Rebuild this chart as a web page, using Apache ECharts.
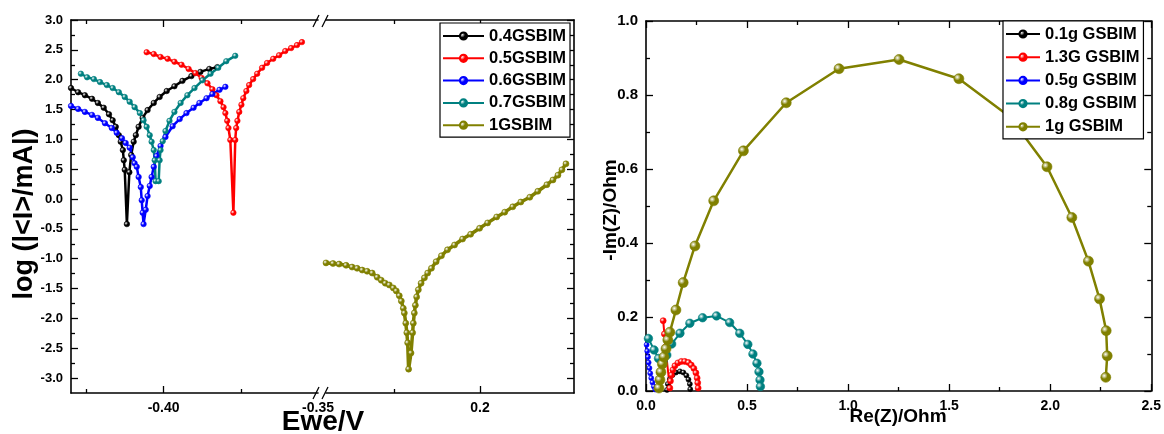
<!DOCTYPE html>
<html>
<head>
<meta charset="utf-8">
<script src="https://cdn.jsdelivr.net/npm/echarts@6/dist/echarts.min.js"></script>
<style>
  html, body { margin: 0; padding: 0; background: #fff; }
  #chart { width: 1164px; height: 434px; }
</style>
</head>
<body>
<div id="chart"></div>
<script>
// ---- Tafel polarisation curves: [E (V), log(|I|/mA)] ----
const tafelNames = ['0.4GSBIM', '0.5GSBIM', '0.6GSBIM', '0.7GSBIM', '1GSBIM'];

const tafel04 = [
  [-0.4300, 1.86], [-0.4277, 1.79], [-0.4255, 1.74], [-0.4232, 1.68], [-0.4213, 1.61],
  [-0.4194, 1.53], [-0.4177, 1.42], [-0.4165, 1.32], [-0.4155, 1.21], [-0.4145, 1.07],
  [-0.4139, 0.96], [-0.4132, 0.82], [-0.4129, 0.65], [-0.4126, 0.49], [-0.4119, -0.42],
  [-0.4111, 0.45], [-0.4105, 0.74], [-0.4097, 0.96], [-0.4090, 1.07], [-0.4081, 1.21],
  [-0.4068, 1.36], [-0.4052, 1.49], [-0.4032, 1.61], [-0.4013, 1.71], [-0.3990, 1.81],
  [-0.3965, 1.89], [-0.3939, 1.98], [-0.3910, 2.06], [-0.3881, 2.13], [-0.3852, 2.18],
  [-0.3826, 2.21]
];
const tafel05 = [
  [-0.4055, 2.46], [-0.4032, 2.43], [-0.4010, 2.38], [-0.3987, 2.35], [-0.3965, 2.30],
  [-0.3942, 2.25], [-0.3919, 2.18], [-0.3897, 2.11], [-0.3877, 2.03], [-0.3858, 1.94],
  [-0.3842, 1.84], [-0.3829, 1.74], [-0.3816, 1.64], [-0.3806, 1.54], [-0.3800, 1.44],
  [-0.3794, 1.31], [-0.3790, 1.19], [-0.3784, 0.99], [-0.3774, -0.23], [-0.3768, 0.99],
  [-0.3765, 1.19], [-0.3761, 1.31], [-0.3755, 1.46], [-0.3748, 1.58], [-0.3742, 1.69],
  [-0.3732, 1.81], [-0.3723, 1.91], [-0.3710, 2.01], [-0.3697, 2.10], [-0.3681, 2.20],
  [-0.3665, 2.28], [-0.3645, 2.35], [-0.3626, 2.41], [-0.3606, 2.48], [-0.3587, 2.53],
  [-0.3568, 2.58], [-0.3552, 2.63]
];
const tafel06 = [
  [-0.4300, 1.56], [-0.4277, 1.51], [-0.4255, 1.46], [-0.4232, 1.41], [-0.4213, 1.36],
  [-0.4190, 1.27], [-0.4168, 1.19], [-0.4152, 1.11], [-0.4135, 1.02], [-0.4123, 0.94],
  [-0.4110, 0.86], [-0.4100, 0.70], [-0.4094, 0.60], [-0.4087, 0.54], [-0.4081, 0.37],
  [-0.4074, 0.20], [-0.4071, -0.02], [-0.4068, -0.23], [-0.4065, -0.42], [-0.4058, -0.18],
  [-0.4052, 0.05], [-0.4045, 0.22], [-0.4039, 0.37], [-0.4032, 0.54], [-0.4023, 0.72],
  [-0.4010, 0.89], [-0.3994, 1.04], [-0.3971, 1.22], [-0.3948, 1.34], [-0.3926, 1.44],
  [-0.3903, 1.53], [-0.3884, 1.61], [-0.3861, 1.69], [-0.3842, 1.76], [-0.3819, 1.83],
  [-0.3800, 1.88]
];
const tafel07 = [
  [-0.4268, 2.10], [-0.4248, 2.04], [-0.4226, 2.01], [-0.4206, 1.96], [-0.4184, 1.91],
  [-0.4165, 1.86], [-0.4145, 1.79], [-0.4126, 1.71], [-0.4110, 1.63], [-0.4094, 1.54],
  [-0.4077, 1.44], [-0.4065, 1.32], [-0.4055, 1.21], [-0.4045, 1.07], [-0.4039, 0.96],
  [-0.4032, 0.82], [-0.4029, 0.65], [-0.4026, 0.30], [-0.4016, 0.30], [-0.4013, 0.65],
  [-0.4010, 0.82], [-0.4003, 0.97], [-0.3994, 1.14], [-0.3981, 1.31], [-0.3965, 1.46],
  [-0.3945, 1.61], [-0.3923, 1.74], [-0.3900, 1.86], [-0.3874, 1.99], [-0.3848, 2.10],
  [-0.3823, 2.20], [-0.3797, 2.31], [-0.3768, 2.40]
];
const tafel1 = [
  [0.0200, -1.07], [0.0282, -1.08], [0.0353, -1.09], [0.0435, -1.11], [0.0505, -1.14],
  [0.0564, -1.16], [0.0623, -1.19], [0.0681, -1.21], [0.0740, -1.24], [0.0799, -1.31],
  [0.0846, -1.36], [0.0893, -1.41], [0.0940, -1.44], [0.0987, -1.49], [0.1022, -1.54],
  [0.1057, -1.62], [0.1081, -1.71], [0.1104, -1.83], [0.1116, -1.91], [0.1133, -2.08],
  [0.1145, -2.24], [0.1155, -2.41], [0.1166, -2.85], [0.1194, -2.58], [0.1213, -2.24],
  [0.1221, -2.08], [0.1233, -1.91], [0.1245, -1.78], [0.1260, -1.64], [0.1280, -1.52],
  [0.1312, -1.41], [0.1351, -1.32], [0.1389, -1.24], [0.1433, -1.16], [0.1488, -1.05],
  [0.1550, -0.95], [0.1621, -0.85], [0.1703, -0.77], [0.1797, -0.67], [0.1891, -0.59],
  [0.1996, -0.49], [0.2090, -0.40], [0.2196, -0.30], [0.2290, -0.22], [0.2384, -0.13],
  [0.2478, -0.05], [0.2583, 0.03], [0.2677, 0.13], [0.2783, 0.24], [0.2854, 0.32],
  [0.2912, 0.40], [0.2959, 0.49], [0.3006, 0.59]
];

// ---- Nyquist plots: [Re(Z), -Im(Z)] in Ohm ----
const nyqNames = ['0.1g GSBIM', '1.3G GSBIM', '0.5g GSBIM', '0.8g GSBIM', '1g GSBIM'];

const nyq01 = [
  [0.104, 0.003], [0.108, 0.019], [0.118, 0.032], [0.131, 0.043], [0.148, 0.050],
  [0.168, 0.053], [0.185, 0.050], [0.200, 0.042], [0.210, 0.031], [0.217, 0.019],
  [0.219, 0.005]
];
const nyq13 = [
  [0.085, 0.190], [0.091, 0.154], [0.096, 0.119],
  [0.118, 0.008], [0.121, 0.027], [0.126, 0.043], [0.133, 0.057], [0.143, 0.068],
  [0.158, 0.076], [0.175, 0.080], [0.192, 0.080], [0.210, 0.077], [0.224, 0.070],
  [0.237, 0.061], [0.247, 0.049], [0.253, 0.035], [0.256, 0.022], [0.258, 0.008]
];
const nyq05 = [
  [0.003, 0.125], [0.006, 0.108], [0.010, 0.092], [0.013, 0.077], [0.017, 0.062],
  [0.021, 0.048], [0.026, 0.035], [0.032, 0.023], [0.039, 0.012], [0.046, 0.004]
];
const nyq08 = [
  [0.012, 0.142], [0.040, 0.111], [0.062, 0.088], [0.085, 0.082], [0.103, 0.097],
  [0.127, 0.127], [0.168, 0.156], [0.217, 0.183], [0.280, 0.198], [0.349, 0.203],
  [0.414, 0.185], [0.464, 0.156], [0.504, 0.126], [0.529, 0.100], [0.549, 0.075],
  [0.559, 0.052], [0.564, 0.030], [0.566, 0.012]
];
const nyq1 = [
  [0.064, 0.008], [0.069, 0.030], [0.074, 0.051], [0.081, 0.073], [0.089, 0.092],
  [0.099, 0.114], [0.108, 0.138], [0.118, 0.159], [0.148, 0.219], [0.184, 0.293],
  [0.242, 0.392], [0.335, 0.514], [0.482, 0.649], [0.694, 0.779], [0.955, 0.871],
  [1.252, 0.896], [1.548, 0.844], [1.800, 0.741], [1.984, 0.606], [2.107, 0.469],
  [2.189, 0.351], [2.244, 0.249], [2.277, 0.163], [2.282, 0.095], [2.275, 0.037]
];

// ---- Tick values ----
const logIMajor = [-3.0, -2.5, -2.0, -1.5, -1.0, -0.5, 0.0, 0.5, 1.0, 1.5, 2.0, 2.5, 3.0];
const logIMinor = [-2.75, -2.25, -1.75, -1.25, -0.75, -0.25, 0.25, 0.75, 1.25, 1.75, 2.25, 2.75];
const eLowMajor = [-0.40];
const eLowMinor = [-0.425, -0.375];
const eLowLabels = [-0.40, -0.35];
const eHighMajor = [0.2];
const eHighMinor = [0.1];
const eHighLabels = [0.2];
const reMajor = [0.0, 0.5, 1.0, 1.5, 2.0, 2.5];
const reMinor = [0.25, 0.75, 1.25, 1.75, 2.25];
const imMajor = [0.0, 0.2, 0.4, 0.6, 0.8, 1.0];
const imMinor = [0.1, 0.3, 0.5, 0.7, 0.9];

const COLORS = ['#000000', '#ff0000', '#0000ff', '#008080', '#808000'];
const FONT = '"Liberation Sans", Arial, sans-serif';
const INK = '#000';

const chart = echarts.init(document.getElementById('chart'), null, { renderer: 'canvas' });

// value axis with optional frame line, inward ticks and custom labels
function axis(gridIndex, position, min, max, tickVals, tickLen, showLine, label) {
  return {
    type: 'value', gridIndex, position, min, max,
    splitLine: { show: false },
    axisLine: { show: showLine, onZero: false, lineStyle: { color: INK, width: 1.6 } },
    axisTick: tickVals
      ? { show: true, inside: true, length: tickLen, customValues: tickVals, lineStyle: { color: INK, width: 1.3 } }
      : { show: false },
    axisLabel: label
      ? Object.assign({ show: true, color: INK, fontFamily: FONT, fontWeight: 'bold' }, label)
      : { show: false }
  };
}

const E1 = [-0.43, -0.35];
const E2 = [0.02, 0.31];
const LOGI = [-3.25, 3.0];
const RE = [0, 2.5];
const IM = [0, 1.0];

const xAxes = [
  axis(0, 'bottom', E1[0], E1[1], eLowMajor, 7, true,
       { customValues: eLowLabels, fontSize: 14, margin: 8, formatter: v => v.toFixed(2) }),
  axis(0, 'bottom', E1[0], E1[1], eLowMinor, 4, false),
  axis(0, 'top', E1[0], E1[1], eLowMajor, 7, true),
  axis(0, 'top', E1[0], E1[1], eLowMinor, 4, false),
  axis(1, 'bottom', E2[0], E2[1], eHighMajor, 7, true,
       { customValues: eHighLabels, fontSize: 14, margin: 8, formatter: v => v.toFixed(1) }),
  axis(1, 'bottom', E2[0], E2[1], eHighMinor, 4, false),
  axis(1, 'top', E2[0], E2[1], eHighMajor, 7, true),
  axis(1, 'top', E2[0], E2[1], eHighMinor, 4, false),
  axis(2, 'bottom', RE[0], RE[1], reMajor, 7, true,
       { customValues: reMajor, fontSize: 14, margin: 8, formatter: v => v.toFixed(1) }),
  axis(2, 'bottom', RE[0], RE[1], reMinor, 4, false),
  axis(2, 'top', RE[0], RE[1], reMajor, 7, true),
  axis(2, 'top', RE[0], RE[1], reMinor, 4, false)
];

const yAxes = [
  axis(0, 'left', LOGI[0], LOGI[1], logIMajor, 7, true,
       { customValues: logIMajor, fontSize: 13, margin: 8, formatter: v => v.toFixed(1) }),
  axis(0, 'left', LOGI[0], LOGI[1], logIMinor, 4, false),
  axis(1, 'left', LOGI[0], LOGI[1], null, 0, false),
  axis(1, 'right', LOGI[0], LOGI[1], logIMajor, 7, true),
  axis(1, 'right', LOGI[0], LOGI[1], logIMinor, 4, false),
  axis(2, 'left', IM[0], IM[1], imMajor, 7, true,
       { customValues: imMajor, fontSize: 15, margin: 8, formatter: v => v.toFixed(1) }),
  axis(2, 'left', IM[0], IM[1], imMinor, 4, false),
  axis(2, 'right', IM[0], IM[1], imMajor, 7, true),
  axis(2, 'right', IM[0], IM[1], imMinor, 4, false)
];

// shaded sphere fill for markers
function ball(c) {
  return new echarts.graphic.RadialGradient(0.35, 0.35, 0.7, [
    { offset: 0, color: '#ffffff' },
    { offset: 0.45, color: c },
    { offset: 1, color: c }
  ]);
}

function curve(name, data, color, xi, yi, size, width) {
  return {
    name, type: 'line', data, xAxisIndex: xi, yAxisIndex: yi,
    symbol: 'circle', symbolSize: size, showSymbol: true,
    lineStyle: { color, width },
    itemStyle: { color: ball(color), borderColor: color, borderWidth: 0.6 },
    emphasis: { disabled: true },
    animation: false
  };
}

const series = [
  curve(tafelNames[0], tafel04, COLORS[0], 0, 0, 5.5, 2.5),
  curve(tafelNames[1], tafel05, COLORS[1], 0, 0, 5.5, 2.5),
  curve(tafelNames[2], tafel06, COLORS[2], 0, 0, 5.5, 2.5),
  curve(tafelNames[3], tafel07, COLORS[3], 0, 0, 5.5, 2.5),
  curve(tafelNames[4], tafel1, COLORS[4], 4, 2, 6, 3.5),
  curve(nyqNames[0], nyq01, COLORS[0], 8, 5, 5, 1.5),
  curve(nyqNames[1], nyq13, COLORS[1], 8, 5, 6, 2),
  curve(nyqNames[2], nyq05, COLORS[2], 8, 5, 5, 1.5),
  curve(nyqNames[3], nyq08, COLORS[3], 8, 5, 8.5, 2),
  curve(nyqNames[4], nyq1, COLORS[4], 8, 5, 10, 2.5)
];

function legend(names, left, top, itemWidth, gap) {
  return {
    data: names, orient: 'vertical', left, top,
    itemWidth, itemHeight: 9, itemGap: gap,
    padding: [4, 4, 3, 2],
    borderColor: INK, borderWidth: 1.2, backgroundColor: '#fff',
    selectedMode: false,
    textStyle: { fontFamily: FONT, fontWeight: 'bold', fontSize: 16.5, color: INK, lineHeight: 18 }
  };
}

// axis-break marks ("//") on the potential axis
function slash(x, y) {
  return { type: 'line', shape: { x1: x - 3, y1: y + 6, x2: x + 3, y2: y - 6 },
           style: { stroke: INK, lineWidth: 1.3 }, z: 10 };
}

function title(text, x, y, size, rot) {
  return { type: 'text', x, y, rotation: rot || 0, z: 10,
           style: { text, fontFamily: FONT, fontWeight: 'bold', fontSize: size, fill: INK,
                    align: 'center', verticalAlign: 'middle' } };
}

chart.setOption({
  animation: false,
  backgroundColor: '#fff',
  grid: [
    { left: 71, top: 20, width: 247, height: 373 },
    { left: 326, top: 20, width: 248, height: 373 },
    { left: 646, top: 21, width: 507, height: 370 }
  ],
  xAxis: xAxes,
  yAxis: yAxes,
  legend: [
    legend(tafelNames, 440, 23, 41, 4.3),
    legend(nyqNames, 1003, 21, 34, 5.2)
  ],
  series,
  graphic: [
    slash(316, 21), slash(325, 21), slash(316, 393), slash(325, 393),
    title('log (|<I>/mA|)', 25, 214, 27, Math.PI / 2),
    title('Ewe/V', 323, 422, 28),
    title('-Im(Z)/Ohm', 611, 210, 19, Math.PI / 2),
    title('Re(Z)/Ohm', 898, 417, 19)
  ]
});
</script>
</body>
</html>
